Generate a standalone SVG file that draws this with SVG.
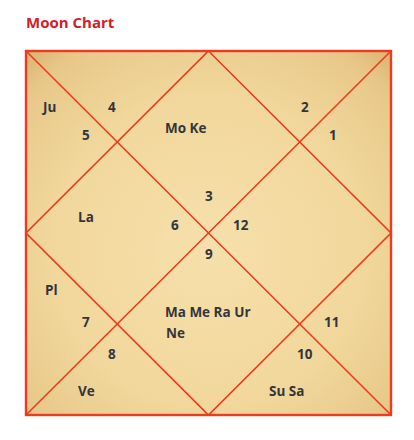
<svg xmlns="http://www.w3.org/2000/svg" width="414" height="440" viewBox="0 0 414 440">
<defs>
<radialGradient id="bg" cx="0.5" cy="0.55" r="0.72">
<stop offset="0" stop-color="#f6e0ab"/>
<stop offset="0.6" stop-color="#f1d79b"/>
<stop offset="0.9" stop-color="#e8c88a"/>
<stop offset="1" stop-color="#ddb877"/>
</radialGradient>
<style>
.t{font-family:"Open Sans","Noto Sans","Liberation Sans",sans-serif;font-weight:bold;font-size:13.5px;fill:#33353d}
.title{font-family:"Open Sans","Noto Sans","Liberation Sans",sans-serif;font-weight:bold;font-size:15px;fill:#d0202a}
.ln{stroke:#ee3a1e;stroke-width:1.6;fill:none}
.bd{stroke:#ee3a1e;stroke-width:2.4;fill:url(#bg)}
</style>
</defs>
<rect width="414" height="440" fill="#ffffff"/>
<text class="title" x="26" y="28">Moon Chart</text>
<g id="chart">
<rect class="bd" x="26" y="51" width="365" height="364"/>
</g>
<g id="connectors">
<line class="ln" x1="26" y1="51" x2="391" y2="415"/>
<line class="ln" x1="391" y1="51" x2="26" y2="415"/>
<polygon class="ln" points="208.5,51 391,233 208.5,415 26,233"/>
</g>
<g id="house1"><text class="t" x="329" y="140">1</text></g>
<g id="house2"><text class="t" x="301" y="112">2</text></g>
<g id="house3"><text class="t" x="205" y="201">3</text><text class="t" x="165" y="133">Mo Ke</text></g>
<g id="house4"><text class="t" x="108" y="112">4</text><text class="t" x="43" y="112">Ju</text></g>
<g id="house5"><text class="t" x="82" y="140">5</text></g>
<g id="house6"><text class="t" x="171" y="230">6</text><text class="t" x="78" y="222">La</text></g>
<g id="house7"><text class="t" x="82" y="327">7</text><text class="t" x="45" y="295">Pl</text></g>
<g id="house8"><text class="t" x="108" y="359">8</text><text class="t" x="78" y="396">Ve</text></g>
<g id="house9"><text class="t" x="205" y="259">9</text><text class="t" x="165" y="317">Ma Me Ra Ur</text><text class="t" x="166" y="338">Ne</text></g>
<g id="house10"><text class="t" x="297" y="359">10</text><text class="t" x="269" y="396">Su Sa</text></g>
<g id="house11"><text class="t" x="324" y="327">11</text></g>
<g id="house12"><text class="t" x="233" y="230">12</text></g>
</svg>
